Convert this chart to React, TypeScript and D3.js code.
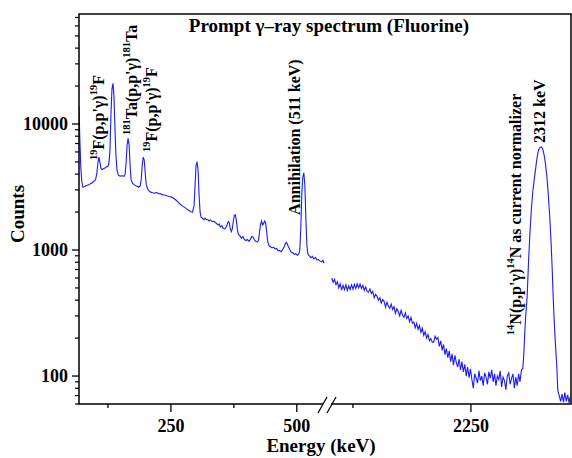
import React from "react";
import * as d3 from "d3";

// spectrum below the axis break: [energy keV, counts]
const lowSpectrum: [number, number][] = [
  [67.5, 14000], [69, 8000], [71, 4600], [73, 3500], [75, 3160], [78, 3180], [81, 3230], [84, 3260],
  [87, 3300], [90, 3360], [93, 3400], [96, 3480], [99, 3550], [101, 3700], [103, 4100], [105, 4900],
  [107, 5450], [109, 5000], [111, 4450], [113, 4350], [116, 4420], [119, 4480], [122, 4550], [125, 4620],
  [127, 4900], [129, 6200], [131, 12000], [133, 19000], [135, 21000], [137, 16500], [139, 9000], [141, 5500],
  [143, 4300], [146, 3900], [150, 3860], [154, 3880], [157, 3850], [159, 3980], [161, 4900], [163, 6800],
  [165, 7700], [167, 6800], [169, 4700], [171, 3600], [174, 3380], [177, 3300], [180, 3240], [183, 3200],
  [186, 3150], [189, 3220], [191, 3600], [193, 4700], [195, 5450], [197, 5200], [199, 4100], [201, 3300],
  [204, 3050], [207, 2930], [210, 2880], [214, 2850], [218, 2830], [222, 2860], [226, 2800], [230, 2790],
  [234, 2740], [238, 2730], [242, 2690], [246, 2660], [250, 2640], [254, 2600], [258, 2530], [262, 2450],
  [266, 2360], [270, 2280], [274, 2220], [278, 2170], [282, 2110], [286, 2060], [290, 2010], [293, 2000],
  [296, 2250], [298, 3300], [300, 4700], [302, 5000], [304, 4300], [306, 2700], [308, 2000], [310, 1820],
  [313, 1780], [316, 1740], [318, 1790], [320, 1750], [324, 1730], [326, 1700], [328, 1740], [332, 1680],
  [336, 1690], [340, 1630], [344, 1580], [346, 1610], [348, 1520], [351, 1560], [354, 1480], [357, 1470],
  [360, 1530], [362, 1600], [364, 1680], [366, 1640], [368, 1480], [370, 1400], [372, 1480], [374, 1700],
  [376, 1880], [378, 1900], [380, 1720], [382, 1450], [384, 1330], [387, 1300], [390, 1240], [393, 1280],
  [396, 1210], [399, 1190], [402, 1210], [405, 1170], [408, 1220], [411, 1280], [413, 1270], [416, 1200],
  [419, 1170], [422, 1160], [424, 1200], [426, 1380], [428, 1600], [430, 1700], [432, 1580], [434, 1620],
  [436, 1700], [438, 1650], [440, 1420], [442, 1180], [445, 1080], [448, 1060], [451, 1040], [454, 1050],
  [457, 1020], [460, 1030], [463, 985], [466, 990], [469, 970], [472, 1010], [475, 1060], [477, 1120],
  [479, 1150], [481, 1120], [483, 1070], [486, 1010], [489, 960], [492, 950], [495, 925], [498, 935],
  [501, 910], [504, 930], [506, 1000], [508, 1500], [510, 2800], [512, 3800], [514, 4100], [516, 3300],
  [518, 1800], [520, 1100], [522, 930], [525, 900], [528, 870], [531, 890], [534, 850], [537, 875],
  [540, 835], [543, 840], [546, 820], [549, 805], [552, 830], [554, 785],
];

// spectrum above the axis break
const highSpectrum: [number, number][] = [
  [1955, 600], [1958, 555], [1961, 585], [1964, 530], [1967, 560], [1970, 500], [1973, 540], [1976, 480],
  [1979, 525], [1982, 485], [1985, 530], [1988, 478], [1991, 520], [1994, 485], [1997, 530], [2000, 490],
  [2003, 535], [2006, 495], [2009, 540], [2012, 500], [2015, 535], [2018, 495], [2021, 525], [2024, 478],
  [2027, 510], [2030, 470], [2033, 462], [2036, 490], [2039, 452], [2042, 470], [2045, 418], [2048, 445],
  [2051, 430], [2054, 400], [2057, 418], [2060, 380], [2063, 405], [2066, 392], [2069, 352], [2072, 385],
  [2075, 360], [2078, 345], [2081, 372], [2084, 338], [2087, 355], [2090, 315], [2093, 342], [2096, 325],
  [2099, 300], [2102, 332], [2105, 305], [2108, 292], [2111, 318], [2114, 286], [2117, 300], [2120, 270],
  [2123, 292], [2126, 262], [2129, 268], [2132, 242], [2135, 262], [2138, 235], [2141, 252], [2144, 222],
  [2147, 240], [2150, 210], [2153, 225], [2156, 200], [2159, 214], [2162, 190], [2165, 198], [2168, 186],
  [2171, 186], [2174, 207], [2177, 196], [2180, 202], [2183, 172], [2186, 190], [2189, 160], [2192, 178],
  [2195, 148], [2198, 165], [2201, 140], [2204, 158], [2207, 130], [2210, 150], [2213, 122], [2216, 146],
  [2219, 128], [2222, 118], [2225, 136], [2228, 112], [2231, 130], [2234, 108], [2237, 124], [2240, 100],
  [2243, 118], [2246, 97], [2249, 114], [2252, 94], [2255, 80], [2258, 104], [2261, 96], [2264, 88],
  [2267, 110], [2270, 92], [2273, 100], [2276, 84], [2279, 106], [2282, 98], [2285, 86], [2288, 108],
  [2291, 96], [2294, 112], [2297, 90], [2300, 104], [2303, 84], [2306, 100], [2309, 94], [2312, 110],
  [2315, 82], [2318, 98], [2321, 92], [2324, 78], [2327, 100], [2330, 106], [2333, 86], [2336, 96],
  [2339, 104], [2342, 80], [2345, 98], [2348, 84], [2351, 104], [2354, 90], [2357, 112], [2360, 115],
  [2362, 150], [2364, 220], [2366, 300], [2369, 420], [2372, 800], [2375, 1365], [2378, 2100], [2381, 2900],
  [2384, 3600], [2387, 4400], [2390, 5400], [2393, 6200], [2396, 6500], [2399, 6570], [2402, 6350], [2405, 5700],
  [2408, 4800], [2411, 3800], [2414, 2700], [2417, 1830], [2420, 1100], [2422, 733], [2424, 450], [2426, 294],
  [2429, 180], [2432, 118], [2434, 77], [2437, 70], [2440, 63], [2443, 72], [2446, 62], [2449, 74],
  [2452, 63], [2455, 71], [2458, 61], [2460, 68],
];

const lowTicks = [125, 250, 375, 500];
const highTicks = [2000, 2250];
const xLabels = [250, 500, 2250];
const yMajor = [100, 1000, 10000];

// [text, superscript?]
type Part = [string, boolean];
const peakLabels: { parts: Part[]; energy: number; counts: number }[] = [
  { parts: [["19", true], ["F(p,p'γ)", false], ["19", true], ["F", false]], energy: 117, counts: 5180 },
  { parts: [["181", true], ["Ta(p,p'γ)", false], ["181", true], ["Ta", false]], energy: 182.5, counts: 8180 },
  { parts: [["19", true], ["F(p,p'γ)", false], ["19", true], ["F", false]], energy: 222, counts: 5990 },
  { parts: [["Annihilation (511 keV)", false]], energy: 506, counts: 1900 },
  { parts: [["14", true], ["N(p,p'γ)", false], ["14", true], ["N as current normalizer", false]], energy: 2356, counts: 211 },
  { parts: [["2312 keV", false]], energy: 2407, counts: 7063 },
];

const font = "'Liberation Serif', 'Times New Roman', serif";
const left = 79, right = 571, top = 14, bottom = 404, breakX = 327;

export default function App() {
  const xLow = d3.scaleLinear().domain([67.5, 560]).range([left, breakX]);
  const xHigh = d3.scaleLinear().domain([1945, 2462]).range([breakX, right]);
  const y = d3.scaleLog().domain([60, 74600]).range([bottom, top]);
  const xOf = (e: number) => (e < 1000 ? xLow(e) : xHigh(e));

  const lineLow = d3.line<[number, number]>().x(d => xLow(d[0])).y(d => y(d[1]));
  const lineHigh = d3.line<[number, number]>().x(d => xHigh(d[0])).y(d => y(d[1]));

  const yMinor: number[] = [];
  [10, 100, 1000, 10000].forEach(dec => {
    for (let m = 2; m <= 9; m++) {
      const v = dec * m;
      if (v >= 60 && v <= 74600) yMinor.push(v);
    }
  });

  const xTicks = [...lowTicks.map(t => xLow(t)), ...highTicks.map(t => xHigh(t))];
  const xLabelPos = xLabels.map(t => ({ t, x: xOf(t) }));

  return (
    <svg width={572} height={458} style={{ position: "absolute", left: 0, top: 0 }}>
      <rect width={572} height={458} fill="white" />
      <defs>
        <clipPath id="plot">
          <rect x={left} y={top} width={right - left} height={bottom - top} />
        </clipPath>
      </defs>

      <g clipPath="url(#plot)" fill="none" stroke="#1a1aff" strokeWidth={1.1}>
        <path d={lineLow(lowSpectrum) || ""} />
        <path d={lineHigh(highSpectrum) || ""} />
      </g>

      <rect x={left} y={top} width={right - left} height={bottom - top} fill="none" stroke="#000" strokeWidth={1.5} />

      {/* axis break */}
      <rect x={breakX - 4} y={bottom - 3} width={8} height={6} fill="white" />
      <line x1={318} y1={413} x2={327} y2={397} stroke="#000" strokeWidth={1.3} />
      <line x1={327} y1={413} x2={336} y2={397} stroke="#000" strokeWidth={1.3} />

      {/* x ticks */}
      {xTicks.map((x, i) => {
        const labelled = xLabelPos.some(l => Math.abs(l.x - x) < 0.5);
        return <line key={i} x1={x} x2={x} y1={bottom} y2={bottom + (labelled ? 8 : 4)} stroke="#000" strokeWidth={1.3} />;
      })}
      {xLabelPos.map(l => (
        <text key={l.t} x={l.x} y={432} textAnchor="middle" fontFamily={font} fontWeight="bold" fontSize={18}>
          {l.t}
        </text>
      ))}

      {/* y ticks */}
      {yMinor.map(v => (
        <line key={v} x1={left - 4} x2={left} y1={y(v)} y2={y(v)} stroke="#000" strokeWidth={1.2} />
      ))}
      {yMajor.map(v => (
        <g key={v}>
          <line x1={left - 7} x2={left} y1={y(v)} y2={y(v)} stroke="#000" strokeWidth={1.3} />
          <text x={left - 11} y={y(v) + 6} textAnchor="end" fontFamily={font} fontWeight="bold" fontSize={18}>
            {v}
          </text>
        </g>
      ))}

      <text x={329} y={32} textAnchor="middle" fontFamily={font} fontWeight="bold" fontSize={19}>
        Prompt γ–ray spectrum (Fluorine)
      </text>
      <text x={321} y={452} textAnchor="middle" fontFamily={font} fontWeight="bold" fontSize={19}>
        Energy (keV)
      </text>
      <text transform="translate(24,214) rotate(-90)" textAnchor="middle" fontFamily={font} fontWeight="bold" fontSize={19}>
        Counts
      </text>

      {peakLabels.map((p, i) => (
        <text
          key={i}
          transform={`translate(${xOf(p.energy)},${y(p.counts)}) rotate(-90)`}
          fontFamily={font}
          fontWeight="bold"
          fontSize={16}
        >
          {p.parts.map(([s, sup], j) => {
            const prevSup = j > 0 && p.parts[j - 1][1];
            const dy = sup ? -7 : prevSup ? 7 : 0;
            return (
              <tspan key={j} dy={dy} fontSize={sup ? 10.5 : 16}>
                {s}
              </tspan>
            );
          })}
        </text>
      ))}
    </svg>
  );
}
